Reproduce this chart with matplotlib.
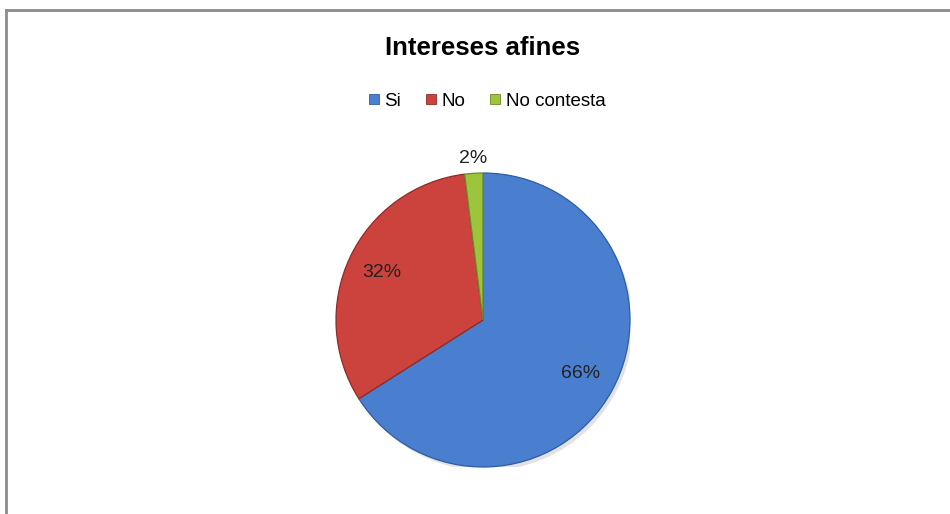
import numpy as np
import matplotlib.pyplot as plt
from matplotlib.lines import Line2D
from matplotlib.patches import Circle

categorias = ['Si', 'No', 'No contesta']
valores = [66, 32, 2]
colores = ['#4a7fcf', '#cc423d', '#9cc43c']
bordes = ['#2f5c9e', '#8f2b28', '#6b8a25']

W, H = 950, 514
fig = plt.figure(figsize=(W / 100, H / 100), dpi=100)
plt.rcParams['font.family'] = ['Liberation Sans', 'DejaVu Sans']

# pie centre and radius in pixels
cx, cy, r = 483, 320, 147
ax = fig.add_axes([(cx - r) / W, (H - cy - r) / H, 2 * r / W, 2 * r / H])

# soft shadow behind the pie
ax.add_patch(Circle((0.02, -0.025), 1.0, color='#a0a0a0', alpha=0.3, lw=0, zorder=0))

wedges, texts, autotexts = ax.pie(
    valores, colors=colores, startangle=90, counterclock=False,
    autopct='%1.0f%%', pctdistance=0.76,
    wedgeprops=dict(linewidth=0.9),
    textprops=dict(fontsize=14, color='#222222'))
for w, ec in zip(wedges, bordes):
    w.set_edgecolor(ec)
    w.set_zorder(2)

# the thin slice gets its label outside the pie
w = wedges[2]
ang = np.deg2rad((w.theta1 + w.theta2) / 2)
autotexts[2].set_position((1.1 * np.cos(ang), 1.1 * np.sin(ang)))
for t in autotexts:
    t.set_zorder(5)

ax.set_xlim(-1, 1)
ax.set_ylim(-1, 1)

fig.text(483 / W, 1 - 48 / H, 'Intereses afines', ha='center', va='center',
         fontsize=18.5, fontweight='bold', color='black')

handles = [Line2D([], [], marker='s', ls='', markersize=7.5,
                  markerfacecolor=c, markeredgecolor=e, markeredgewidth=0.6)
           for c, e in zip(colores, bordes)]
fig.legend(handles, categorias, loc='center', bbox_to_anchor=(487 / W, 1 - 101 / H),
           ncol=3, frameon=False, fontsize=13.5, handlelength=0.6,
           handletextpad=0.25, columnspacing=1.3, borderpad=0)

# chart area border (top and left edges)
fig.add_artist(Line2D([6 / W, 1], [1 - 10 / H, 1 - 10 / H], color='#8c8c8c', lw=2))
fig.add_artist(Line2D([6 / W, 6 / W], [0, 1 - 10 / H], color='#8c8c8c', lw=2))

fig.savefig('out.png', dpi=100, facecolor='white')
